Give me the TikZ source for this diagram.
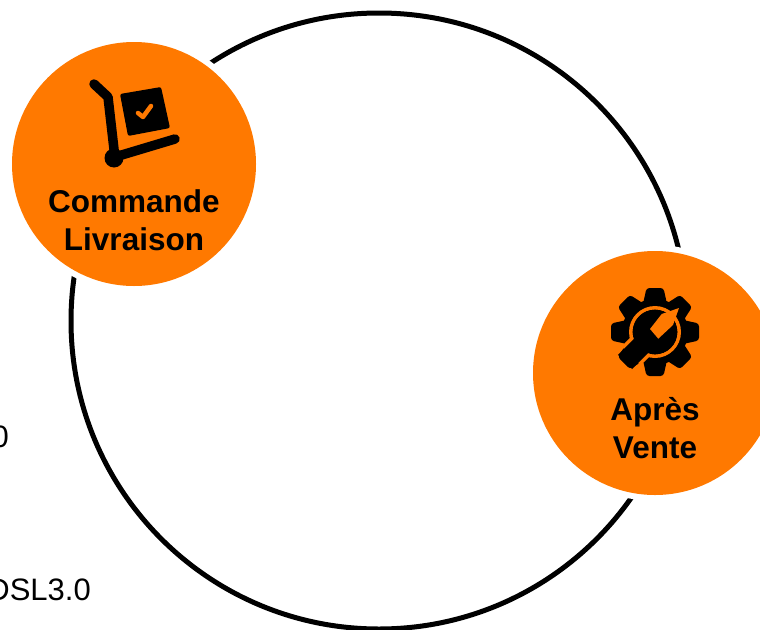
\documentclass[tikz,border=0pt]{standalone}
\usepackage{fontspec}
\setmainfont{Liberation Sans}
\usetikzlibrary{calc}
\definecolor{brandorange}{RGB}{255,121,0}
\tikzstyle{ringbox}=[circle,draw=black,line width=5pt,fill=white,minimum size=616pt,inner sep=0pt]
\tikzstyle{halobox}=[circle,fill=white,minimum size=256pt,inner sep=0pt]
\tikzstyle{orangebox}=[circle,fill=brandorange,minimum size=244pt,inner sep=0pt]
\tikzstyle{steplabel}=[align=center,font=\fontsize{31.5}{37.5}\selectfont\bfseries]
\tikzstyle{sidelabel}=[anchor=east,inner sep=0pt,font=\fontsize{31}{36}\selectfont]
\tikzstyle{iconline}=[draw=black,line width=9.5pt,line cap=round,line join=round]
\begin{document}
\begin{tikzpicture}[x=1pt,y=-1pt]
    \useasboundingbox (0,0) rectangle (760,629);
    \node [sidelabel] (sideTop) at (9,437) {0};
    \node [sidelabel] (sideBottom) at (91,590) {DSL3.0};
    \node [ringbox] (ring) at (379,321) {};
    \node [halobox] (commandeHalo) at (134,164) {};
    \node [halobox] (venteHalo) at (655,373) {};
    \node [orangebox] (commande) at (134,164) {};
    \node [orangebox] (vente) at (655,373) {};
    \node [steplabel] (commandeText) at (134,220) {Commande\\Livraison};
    \node [steplabel] (venteText) at (655,428) {Après\\Vente};
    % chariot
    \draw [iconline] (94,84) -- (108,97) -- (115,158) (115,157) -- (175,139);
    \fill [black] (114,158) circle (9.5);
    \fill [black,rounded corners=2pt] (120,94) -- (161,87) -- (170,128) -- (128,136) -- cycle;
    \draw [brandorange,line width=4.5pt,line cap=round,line join=round] (138,113) -- (143,117) -- (151,106);
    % engrenage
    \coordinate (gear) at (655,332);
    \fill [black] (gear) circle (33);
    \foreach \ang in {0,45,...,315} {
        \fill [black,rounded corners=3pt,rotate around={\ang:(gear)}]
            ($(gear)+(-8.5,-44)$) -- ($(gear)+(8.5,-44)$) -- ($(gear)+(12,-28)$) -- ($(gear)+(-12,-28)$) -- cycle;
    }
    \fill [brandorange] (gear) circle (26);
    \fill [black] (gear) circle (22.3);
    \draw [brandorange,line width=27pt] (gear) -- ($(gear)+(-24,24)$);
    \draw [black,line width=20pt] (gear) -- ($(gear)+(-30,30)$);
    \fill [black] (gear) circle (22.3);
    \fill [brandorange] ($(gear)+(6.7,-18)$) -- ($(gear)+(-5,-3)$) -- ($(gear)+(3.3,6.7)$) -- ($(gear)+(18,-7)$) -- ($(gear)+(24,-24)$) -- cycle;
\end{tikzpicture}
\end{document}
